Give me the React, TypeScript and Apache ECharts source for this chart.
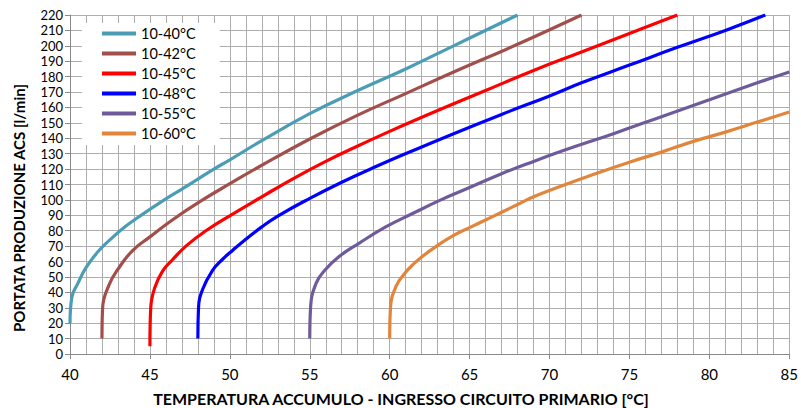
import React, { useEffect, useRef } from "react";
import * as echarts from "echarts";

// [temperature °C, flow l/min]
const curve40: [number, number][] = [
  [40, 20], [40.12, 37], [40.5, 46], [41, 56], [41.8, 67], [42.7, 76], [43.5, 83], [44.3, 89],
  [45.9, 100], [47, 107], [48, 113.5], [49, 120], [50, 126], [52, 138.5], [55, 156], [58, 171],
  [61, 185], [64, 200], [68, 220],
];
const curve42: [number, number][] = [
  [42, 10], [42.04, 30], [42.45, 45], [43, 55], [43.9, 67], [45, 76], [46.4, 87], [48.3, 100],
  [50, 110.5], [52, 122.5], [55, 139.5], [58, 155], [61, 169], [64, 183], [68, 201], [72, 220],
];
const curve45: [number, number][] = [
  [45, 5], [45.05, 30], [45.3, 43], [45.8, 54], [46.4, 61], [47.25, 70], [48.5, 80], [50.2, 91],
  [52, 102], [54, 114], [56, 125], [58, 135], [60, 144.5], [63, 158], [66, 171], [69, 184],
  [72, 196], [75, 208], [78, 220],
];
const curve48: [number, number][] = [
  [48, 10], [48.04, 30], [48.3, 42], [48.9, 54], [49.5, 61], [50.2, 67.5], [51, 74.5],
  [52, 82.5], [53, 89.5], [55, 101], [57, 111.5], [59, 121], [61, 130], [64, 143], [67, 155.5],
  [70, 167.5], [72, 176], [75, 187.5], [78, 199], [81, 210], [83.5, 220],
];
const curve55: [number, number][] = [
  [55, 10], [55.05, 30], [55.4, 46], [56, 55], [56.8, 63], [58.1, 72], [59.75, 82.5], [61.4, 91],
  [63.2, 100], [65, 108], [67, 117], [69, 125], [71, 132.5], [74, 143], [77, 154], [80, 165],
  [83, 176], [85, 183],
];
const curve60: [number, number][] = [
  [60, 10], [60.05, 30], [60.4, 44], [61, 53], [61.5, 58.5], [62, 63], [63, 70.5], [64, 77],
  [65, 82], [66, 87], [67, 92], [68, 97], [69, 102], [71, 110], [73, 117.5], [75, 124.5],
  [77, 131], [79, 138], [81, 144], [83, 150.5], [85, 157],
];

const seriesNames = ["10-40°C", "10-42°C", "10-45°C", "10-48°C", "10-55°C", "10-60°C"];
const seriesData = [curve40, curve42, curve45, curve48, curve55, curve60];
const seriesColors = ["#4A9DB5", "#A24E4A", "#FF0000", "#0000FF", "#6F5A9C", "#E2853A"];

const xTitle = "TEMPERATURA ACCUMULO - INGRESSO CIRCUITO PRIMARIO [°C]";
const yTitle = "PORTATA PRODUZIONE ACS [l/min]";

const FONT = "Lato, 'Open Sans', sans-serif";
const GRID_COLOR = "#ADADAD";
const AXIS_COLOR = "#8A8A8A";

export default function App() {
  const ref = useRef<HTMLDivElement>(null);
  useEffect(() => {
    if (!ref.current) return;
    const chart = echarts.init(ref.current, undefined, { renderer: "svg" });
    chart.setOption({
      animation: false,
      backgroundColor: "#FFFFFF",
      textStyle: { fontFamily: FONT },
      grid: { left: 70, right: 10, top: 15, bottom: 54, containLabel: false },
      legend: {
        orient: "vertical",
        left: 82,
        top: 23,
        padding: [3, 24, 4, 20],
        icon: "rect",
        itemWidth: 34,
        itemHeight: 4,
        itemGap: 5,
        backgroundColor: "#FFFFFF",
        data: seriesNames,
        textStyle: { fontFamily: FONT, fontSize: 14.5, color: "#000", lineHeight: 14 },
      },
      xAxis: {
        type: "value",
        min: 40,
        max: 85,
        interval: 5,
        axisLine: { show: true, lineStyle: { color: AXIS_COLOR, width: 1 } },
        axisTick: { show: true, length: 5, lineStyle: { color: AXIS_COLOR } },
        axisLabel: { fontFamily: FONT, fontSize: 15, color: "#000", margin: 12 },
        splitLine: { show: true, lineStyle: { color: GRID_COLOR, width: 1 } },
        minorTick: { show: false, splitNumber: 5 },
        minorSplitLine: { show: true, lineStyle: { color: GRID_COLOR, width: 1 } },
      },
      yAxis: {
        type: "value",
        min: 0,
        max: 220,
        interval: 10,
        axisLine: { show: true, lineStyle: { color: AXIS_COLOR, width: 1 } },
        axisTick: { show: true, length: 5, lineStyle: { color: AXIS_COLOR } },
        axisLabel: { fontFamily: FONT, fontSize: 13, color: "#000", margin: 7 },
        splitLine: { show: true, lineStyle: { color: GRID_COLOR, width: 1 } },
      },
      graphic: [
        {
          type: "text",
          x: 401,
          y: 398,
          style: {
            text: xTitle,
            fontFamily: FONT,
            fontWeight: "bold",
            fontSize: 16,
            fill: "#000",
            align: "center",
            verticalAlign: "middle",
          },
        },
        {
          type: "text",
          x: 19,
          y: 208,
          rotation: Math.PI / 2,
          style: {
            text: yTitle,
            fontFamily: FONT,
            fontWeight: "bold",
            fontSize: 15,
            fill: "#000",
            align: "center",
            verticalAlign: "middle",
          },
        },
      ],
      series: seriesNames.map((name, i) => ({
        name,
        type: "line",
        data: seriesData[i],
        symbol: "none",
        smooth: 0.45,
        color: seriesColors[i],
        lineStyle: { color: seriesColors[i], width: 3.2 },
      })),
    });
    return () => chart.dispose();
  }, []);
  return (
    <div
      ref={ref}
      style={{ position: "fixed", left: 0, top: 0, width: 801, height: 408 }}
    />
  );
}
